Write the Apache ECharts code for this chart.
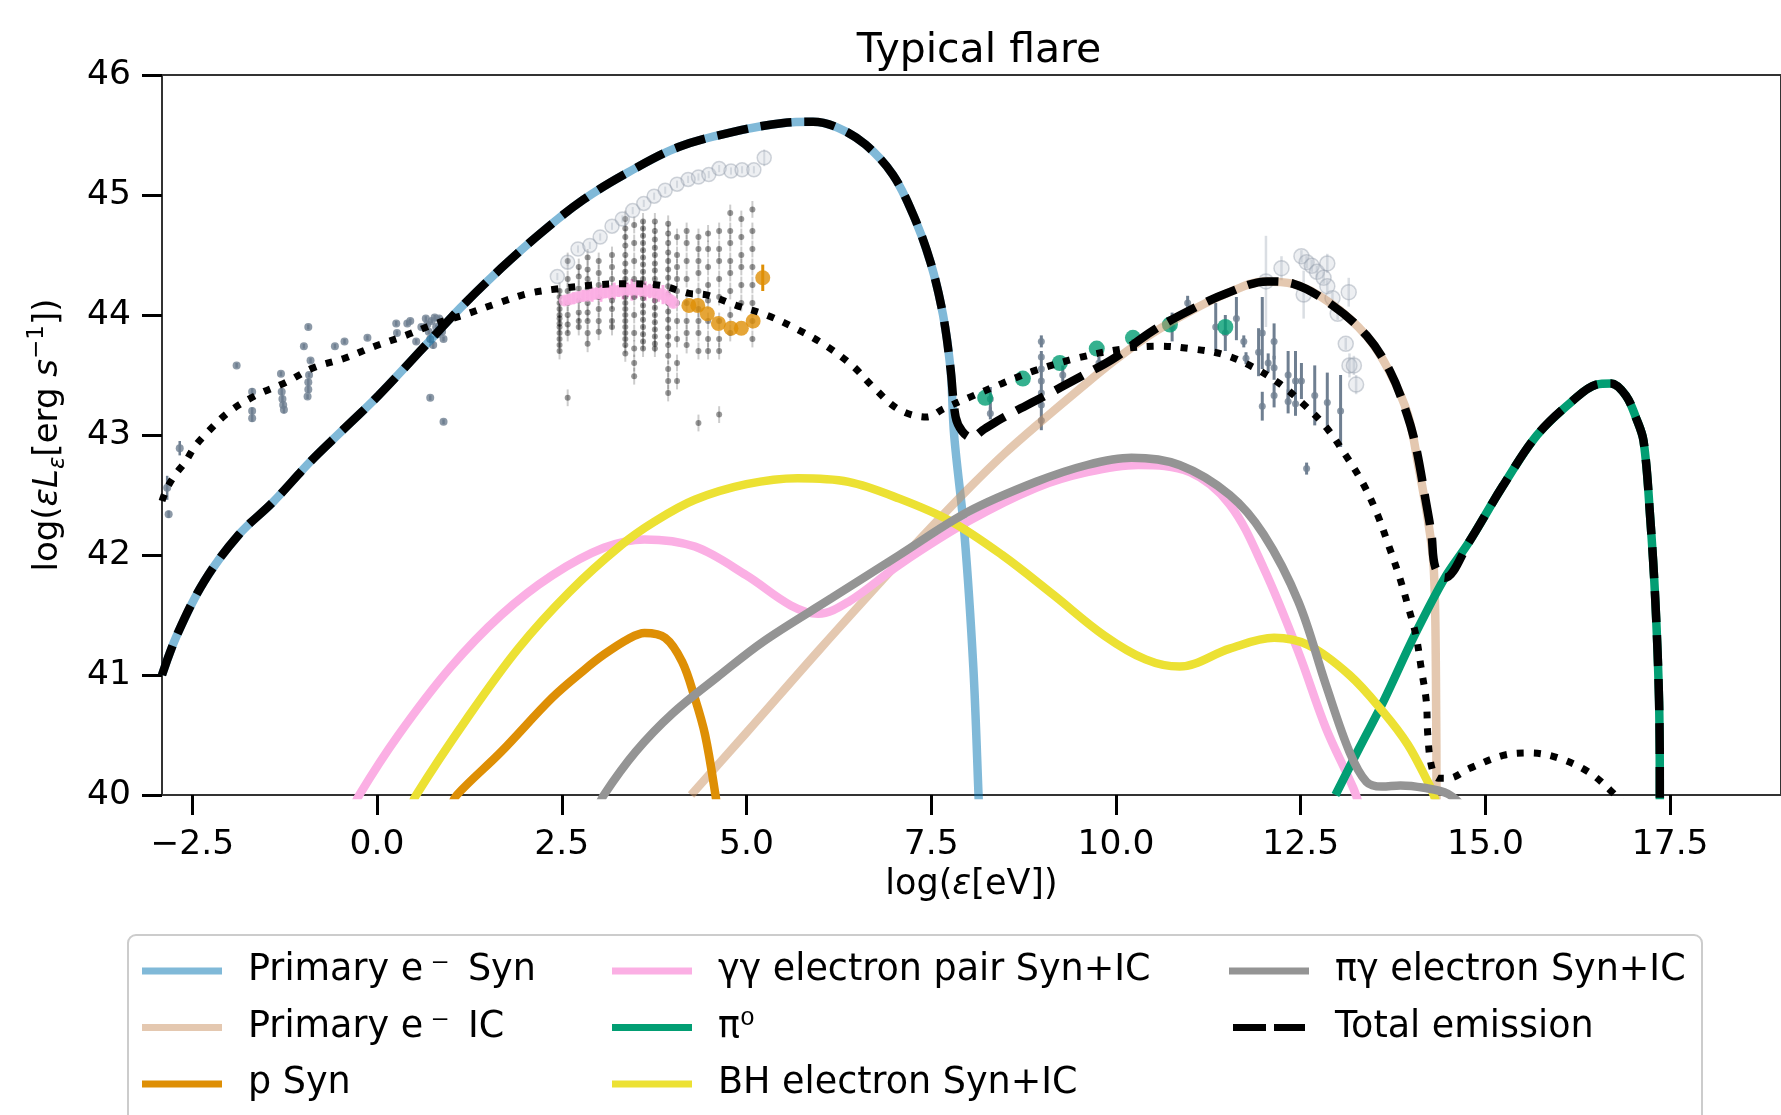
<!DOCTYPE html>
<html>
<head>
<meta charset="utf-8">
<title>Typical flare</title>
<script src="https://cdn.jsdelivr.net/npm/echarts@6/dist/echarts.min.js"></script>
<style>
  html, body { margin: 0; padding: 0; background: #fff; }
  #chart { width: 1781px; height: 1115px; }
</style>
</head>
<body>
<div id="chart"></div>
<script>
// tick positions on the energy axis
const xTicks = [-2.5, 0, 2.5, 5, 7.5, 10, 12.5, 15, 17.5];

// model curves [log eps, log eps L_eps]
const primarySyn = [[-2.91,41.0],[-2.71,41.33],[-2.34,41.78],[-1.87,42.17],[-1.41,42.44],[-0.9,42.78],[-0.5,43.02],[0.02,43.33],[0.57,43.69],[1.13,44.06],[1.68,44.39],[2.23,44.69],[2.79,44.96],[3.4,45.19],[4.08,45.4],[4.85,45.53],[5.5,45.6],[5.9,45.61],[6.24,45.56],[6.61,45.42],[6.98,45.17],[7.26,44.83],[7.49,44.44],[7.66,44.0],[7.76,43.56],[7.81,43.0],[7.95,42.17],[8.07,41.06],[8.14,40.0],[8.15,39.8]];
const primaryIC = [[4.25,40.0],[5.0,40.52],[6.0,41.22],[7.0,41.9],[7.53,42.25],[8.0,42.55],[8.5,42.85],[9.0,43.12],[9.5,43.38],[10.0,43.63],[10.5,43.85],[11.0,44.03],[11.5,44.18],[12.0,44.28],[12.4,44.26],[12.9,44.1],[13.4,43.82],[13.7,43.53],[13.95,43.17],[14.1,42.72],[14.22,42.3],[14.3,41.9],[14.33,41.0],[14.34,39.5]];
const pSyn = [[1.0,39.9],[1.08,40.0],[1.68,40.36],[2.37,40.81],[2.8,41.04],[3.07,41.17],[3.4,41.3],[3.62,41.35],[3.9,41.31],[4.13,41.11],[4.3,40.81],[4.44,40.5],[4.58,40.0],[4.62,39.8]];
const ggPair = [[-0.35,39.85],[-0.24,40.0],[0.29,40.5],[0.99,41.06],[1.68,41.5],[2.37,41.83],[3.07,42.06],[3.62,42.13],[4.3,42.07],[5.0,41.83],[5.6,41.58],[5.97,41.51],[6.38,41.61],[7.07,41.92],[8.0,42.28],[8.92,42.56],[9.61,42.69],[10.3,42.75],[11.0,42.69],[11.54,42.42],[12.0,41.89],[12.47,41.19],[12.84,40.56],[13.21,40.06],[13.3,39.9]];
const pi0 = [[12.97,40.0],[13.3,40.4],[13.62,40.78],[14.04,41.33],[14.45,41.81],[14.78,42.11],[15.24,42.58],[15.7,43.0],[16.17,43.28],[16.5,43.42],[16.7,43.43],[16.9,43.33],[17.04,43.14],[17.14,42.95],[17.23,42.31],[17.3,41.61],[17.35,40.78],[17.36,40.0],[17.36,39.8]];
const bhPair = [[0.45,39.88],[0.53,40.0],[1.22,40.64],[1.91,41.22],[2.6,41.69],[3.3,42.08],[3.76,42.28],[4.3,42.46],[5.0,42.59],[5.69,42.64],[6.38,42.61],[7.07,42.47],[7.77,42.28],[8.46,42.0],[9.15,41.67],[9.84,41.33],[10.4,41.13],[10.86,41.07],[11.54,41.22],[12.14,41.31],[12.6,41.25],[13.16,41.0],[13.62,40.69],[13.95,40.42],[14.22,40.11],[14.3,40.0],[14.35,39.9]];
const pgPair = [[2.98,39.88],[3.07,40.0],[3.5,40.36],[4.0,40.68],[4.6,40.98],[5.23,41.28],[6.15,41.64],[7.07,42.0],[8.0,42.36],[8.92,42.61],[9.61,42.75],[10.21,42.81],[10.86,42.75],[11.54,42.5],[12.0,42.17],[12.47,41.61],[12.84,40.92],[13.16,40.36],[13.39,40.11],[13.6,40.07],[13.85,40.08],[14.17,40.06],[14.49,40.01],[14.7,39.9]];
const totalEmission = [[-2.91,41.0],[-2.71,41.33],[-2.34,41.78],[-1.87,42.17],[-1.41,42.44],[-0.9,42.78],[-0.5,43.02],[0.02,43.33],[0.57,43.69],[1.13,44.06],[1.68,44.39],[2.23,44.69],[2.79,44.96],[3.4,45.19],[4.08,45.4],[4.85,45.53],[5.5,45.6],[5.9,45.61],[6.24,45.56],[6.61,45.42],[6.98,45.17],[7.26,44.83],[7.49,44.44],[7.66,44.0],[7.76,43.56],[7.83,43.15],[7.92,43.03],[8.04,42.98],[8.22,43.05],[8.49,43.15],[9.02,43.32],[9.5,43.48],[9.95,43.63],[10.5,43.87],[11.0,44.04],[11.49,44.18],[12.05,44.28],[12.4,44.26],[12.93,44.08],[13.39,43.83],[13.71,43.53],[13.94,43.17],[14.06,42.9],[14.19,42.46],[14.27,42.17],[14.32,41.9],[14.45,41.81],[14.78,42.11],[15.24,42.58],[15.7,43.0],[16.17,43.28],[16.5,43.42],[16.7,43.43],[16.9,43.33],[17.04,43.14],[17.14,42.95],[17.23,42.31],[17.3,41.61],[17.35,40.78],[17.36,40.0],[17.36,39.8]];
const dottedModel = [[-2.91,42.45],[-2.84,42.56],[-2.73,42.67],[-2.59,42.78],[-2.47,42.9],[-2.33,43.0],[-2.01,43.19],[-1.64,43.33],[-1.23,43.44],[-0.86,43.56],[-0.44,43.64],[-0.03,43.74],[0.39,43.83],[0.76,43.92],[1.22,44.01],[1.64,44.1],[2.05,44.18],[2.47,44.22],[2.93,44.25],[3.34,44.26],[3.8,44.25],[4.22,44.18],[4.44,44.17],[4.86,44.08],[5.27,44.0],[5.69,43.88],[6.06,43.75],[6.43,43.58],[6.73,43.39],[7.07,43.21],[7.44,43.15],[7.67,43.22],[8.04,43.32],[8.46,43.43],[8.87,43.53],[9.47,43.64],[10.12,43.72],[10.58,43.74],[11.0,43.72],[11.46,43.67],[11.84,43.57],[12.21,43.43],[12.55,43.25],[12.85,43.06],[13.11,42.83],[13.34,42.6],[13.53,42.35],[13.69,42.08],[13.83,41.83],[13.95,41.58],[14.06,41.33],[14.13,41.06],[14.2,40.78],[14.22,40.5],[14.27,40.24],[14.36,40.14],[14.5,40.14],[14.78,40.22],[15.24,40.33],[15.61,40.35],[15.98,40.31],[16.4,40.19],[16.74,40.01],[16.9,39.9]];

// observations [x, y, err]
const radioSlate = [[-2.84,42.56,0.1],[-2.82,42.34,0.03],[-2.67,42.89,0.06],[-1.9,43.58,0.02],[-1.69,43.36,0.03],[-1.69,43.2,0.03],[-1.69,43.14,0.03],[-1.3,43.51,0.02],[-1.29,43.36,0.03],[-1.28,43.3,0.03],[-1.27,43.25,0.02],[-1.26,43.21,0.03],[-0.99,43.74,0.02],[-0.93,43.9,0.02],[-0.9,43.62,0.02],[-0.92,43.5,0.02],[-0.93,43.44,0.03],[-0.93,43.38,0.03],[-0.94,43.32,0.02],[-0.57,43.74,0.02],[-0.44,43.78,0.02],[-0.13,43.81,0.02],[0.26,43.93,0.02],[0.27,43.85,0.02],[0.41,43.93,0.02],[0.45,43.95,0.02],[0.53,43.78,0.02],[0.6,43.9,0.02],[0.66,43.97,0.02],[0.68,43.92,0.02],[0.7,43.86,0.02],[0.72,43.8,0.03],[0.74,43.95,0.02],[0.76,43.75,0.03],[0.78,43.98,0.02],[0.8,43.9,0.02],[0.82,43.84,0.02],[0.84,43.97,0.02],[0.86,43.93,0.02],[0.88,43.86,0.03],[0.9,43.8,0.02],[0.72,43.31,0.02],[0.9,43.11,0.02]];
const gammaSlate = [[8.3,43.3,0.1],[8.3,43.18,0.05],[8.99,43.78,0.05],[8.99,43.65,0.05],[8.99,43.55,0.05],[8.99,43.45,0.05],[8.99,43.35,0.05],[8.99,43.25,0.05],[8.99,43.12,0.08],[9.28,43.5,0.08],[9.77,43.6,0.05],[10.23,43.75,0.05],[10.76,43.9,0.12],[10.97,44.1,0.06],[11.35,43.9,0.2],[11.48,43.85,0.15],[11.63,43.97,0.18],[11.73,43.78,0.05],[11.76,43.64,0.05],[11.93,43.69,0.2],[11.98,43.85,0.3],[11.98,43.24,0.12],[12.06,43.6,0.08],[12.14,43.78,0.15],[12.14,43.56,0.1],[12.14,43.33,0.1],[12.33,43.5,0.2],[12.33,43.28,0.1],[12.43,43.45,0.25],[12.43,43.26,0.1],[12.51,43.45,0.15],[12.58,42.72,0.05],[12.69,43.33,0.25],[12.86,43.27,0.25],[13.04,43.2,0.3]];
const opticalCircles = [[2.44,44.32,0.03],[2.58,44.44,0.03],[2.72,44.55,0.03],[2.88,44.58,0.03],[3.02,44.65,0.03],[3.18,44.74,0.03],[3.32,44.8,0.03],[3.46,44.87,0.03],[3.61,44.93,0.03],[3.75,44.99,0.03],[3.9,45.04,0.03],[4.06,45.09,0.03],[4.21,45.13,0.03],[4.35,45.15,0.03],[4.49,45.17,0.03],[4.63,45.22,0.03],[4.79,45.2,0.03],[4.94,45.21,0.03],[5.1,45.21,0.03],[5.24,45.31,0.07]];
const tevCircles = [[12.03,44.28,0.38],[12.24,44.39,0.1],[12.51,44.49,0.05],[12.58,44.44,0.05],[12.65,44.41,0.05],[12.72,44.36,0.05],[12.86,44.43,0.08],[12.81,44.31,0.05],[12.86,44.24,0.05],[12.54,44.17,0.2],[12.93,44.14,0.05],[13.0,44.01,0.05],[13.15,44.19,0.12],[13.11,43.76,0.05],[13.16,43.58,0.1],[13.22,43.58,0.08],[13.25,43.42,0.08]];
const orangeObs = [[4.22,44.08,0],[4.34,44.08,0],[4.47,44.01,0],[4.62,43.93,0],[4.79,43.89,0],[4.93,43.89,0],[5.09,43.95,0],[5.22,44.31,0.11]];
const greenObs = [[8.23,43.31,0],[8.74,43.47,0],[9.24,43.6,0],[9.74,43.72,0],[10.23,43.81,0],[10.73,43.92,0],[11.48,43.9,0]];
const pinkObs = [[2.54,44.12,0.04],[2.6,44.13,0.04],[2.66,44.14,0.05],[2.72,44.15,0.04],[2.79,44.16,0.05],[2.85,44.16,0.04],[2.91,44.17,0.06],[2.97,44.18,0.05],[3.03,44.18,0.07],[3.09,44.19,0.05],[3.15,44.19,0.06],[3.21,44.2,0.07],[3.27,44.2,0.05],[3.33,44.21,0.08],[3.39,44.21,0.06],[3.45,44.21,0.09],[3.51,44.21,0.07],[3.57,44.21,0.06],[3.63,44.2,0.08],[3.69,44.2,0.06],[3.75,44.19,0.09],[3.81,44.18,0.07],[3.87,44.17,0.08],[3.93,44.14,0.06],[3.98,44.12,0.05],[4.01,44.1,0.04]];
// dense optical columns: [x, [y values]]
const opticalColumns = [
  [2.47, [44.2,44.15,44.1,44.05,44.0,43.97,43.93,43.9,43.85,43.8,43.75,43.7]],
  [2.58, [44.45,44.3,44.2,44.1,44.0,43.92,43.85,43.31]],
  [2.73, [44.4,44.32,44.22,44.12,44.02,43.95,43.9]],
  [2.85, [44.48,44.38,44.3,44.22,44.1,44.02,43.95,43.85,43.76]],
  [3.0, [44.45,44.35,44.25,44.15,44.05,43.95,43.86]],
  [3.18, [44.5,44.4,44.3,44.2,44.12,44.05,43.95,43.9]],
  [3.36, [44.8,44.72,44.65,44.58,44.5,44.43,44.36,44.3,44.25,44.2,44.15,44.1,44.05,44.0,43.95,43.9,43.85,43.8,43.75,43.68]],
  [3.48, [44.75,44.6,44.45,44.3,44.15,44.0,43.85,43.72,43.6,43.49]],
  [3.6, [44.78,44.72,44.66,44.6,44.54,44.48,44.42,44.36,44.3,44.25,44.2,44.14,44.08,44.02,43.96,43.9,43.84,43.78,43.72]],
  [3.76, [44.78,44.7,44.63,44.56,44.5,44.43,44.37,44.3,44.24,44.18,44.12,44.06,44.0,43.94,43.88,43.82,43.76,43.72]],
  [3.94, [44.76,44.68,44.6,44.52,44.45,44.38,44.31,44.24,44.17,44.1,44.03,43.96,43.89,43.82,43.75,43.66,43.55,43.45,43.35]],
  [4.06, [44.65,44.5,44.4,44.3,44.2,44.1,43.95,43.8,43.6,43.45]],
  [4.19, [44.7,44.6,44.45,44.3,44.1,43.95,43.85,43.75]],
  [4.35, [44.65,44.55,44.45,44.35,44.2,44.05,43.95,43.85,43.7,43.1]],
  [4.48, [44.68,44.55,44.4,44.25,44.12,43.95,43.8,43.7]],
  [4.63, [44.7,44.55,44.45,44.3,44.15,43.95,43.8,43.7,43.17]],
  [4.78, [44.85,44.7,44.6,44.45,44.35,44.2,44.0,43.85]],
  [4.93, [44.8,44.65,44.5,44.4,44.25,44.1]],
  [5.08, [44.88,44.7,44.55,44.4,44.25,44.1,43.95,43.8]]
];

const FONT = "DejaVu Sans";
const C = {
  syn: "rgba(1,115,178,0.5)",
  ic: "rgba(202,145,97,0.5)",
  pSyn: "#de8f05",
  gg: "#fbafe4",
  pi0: "#029e73",
  bh: "#ece133",
  pg: "#949494",
  slate: "#6f7f91"
};
const LW = 8.5;

const opticalPoints = [];
opticalColumns.forEach(([x, ys]) => ys.forEach((y) => opticalPoints.push([x, y, 0.07])));

function curve(name, data, color, extra) {
  return Object.assign({
    name: name,
    type: "line",
    data: data,
    showSymbol: false,
    symbol: "none",
    smooth: 0.35,
    clip: true,
    itemStyle: { color: color },
    lineStyle: { color: color, width: LW, cap: "butt" },
    emphasis: { disabled: true },
    animation: false
  }, extra || {});
}

function errorBars(data, color, width) {
  return {
    type: "custom",
    data: data,
    clip: true,
    silent: true,
    animation: false,
    encode: { x: 0, y: 1 },
    renderItem: (params, api) => {
      const x = api.value(0), y = api.value(1), e = api.value(2);
      const a = api.coord([x, y - e]);
      const b = api.coord([x, y + e]);
      return {
        type: "line",
        shape: { x1: a[0], y1: a[1], x2: b[0], y2: b[1] },
        style: { stroke: color, lineWidth: width }
      };
    }
  };
}

function points(data, size, style) {
  return {
    type: "scatter",
    data: data,
    symbolSize: size,
    itemStyle: style,
    silent: true,
    animation: false,
    clip: true
  };
}

const legendBase = {
  orient: "vertical",
  top: 946,
  itemWidth: 80,
  itemHeight: 7,
  itemGap: 16.5,
  icon: "rect",
  selectedMode: false,
  textStyle: { fontFamily: FONT, fontSize: 36.5, lineHeight: 40, color: "#000", padding: [0, 0, 0, 21] }
};

const chart = echarts.init(document.getElementById("chart"));
chart.setOption({
  backgroundColor: "#fff",
  animation: false,
  graphic: [
    {
      type: "text",
      x: 979,
      y: 51,
      style: { text: "Typical flare", font: "41px " + FONT, fill: "#000", align: "center", verticalAlign: "middle" }
    },
    {
      type: "rect",
      z: 1,
      shape: { x: 128, y: 935, width: 1574, height: 200, r: 8 },
      style: { fill: "#fff", stroke: "#cccccc", lineWidth: 2 }
    }
  ],
  grid: {
    left: 162,
    right: -15,
    top: 75,
    bottom: 320,
    show: true,
    borderColor: "#333",
    borderWidth: 2,
    backgroundColor: "transparent"
  },
  xAxis: {
    type: "value",
    min: -2.91,
    max: 19,
    name: "{t|log(}{i|ε}{t|[eV])}",
    nameLocation: "middle",
    nameGap: 66,
    nameTextStyle: {
      fontFamily: FONT,
      color: "#000",
      rich: {
        t: { fontFamily: FONT, fontSize: 35, color: "#000" },
        i: { fontFamily: FONT, fontSize: 35, fontStyle: "italic", color: "#000" }
      }
    },
    axisLine: { show: true, onZero: false, lineStyle: { color: "#333", width: 2 } },
    axisTick: { show: true, length: 20, customValues: xTicks, lineStyle: { color: "#000", width: 3 } },
    axisLabel: {
      customValues: xTicks,
      fontFamily: FONT,
      fontSize: 34.5,
      color: "#000",
      margin: 33,
      formatter: (v) => v.toFixed(1).replace("-", "\u2212")
    },
    splitLine: { show: false }
  },
  yAxis: {
    type: "value",
    min: 40,
    max: 46,
    interval: 1,
    name: "{t|log(}{i|εL}{s|ε}{t|[erg }{i|s}{p|\u22121}{t|])}",
    nameLocation: "middle",
    nameGap: 92,
    nameRotate: 90,
    nameTextStyle: {
      fontFamily: FONT,
      color: "#000",
      rich: {
        t: { fontFamily: FONT, fontSize: 34, color: "#000", lineHeight: 44 },
        i: { fontFamily: FONT, fontSize: 34, fontStyle: "italic", color: "#000", lineHeight: 44 },
        s: { fontFamily: FONT, fontSize: 23, fontStyle: "italic", color: "#000", verticalAlign: "bottom", lineHeight: 44 },
        p: { fontFamily: FONT, fontSize: 23, color: "#000", verticalAlign: "top", lineHeight: 44 }
      }
    },
    axisLine: { show: true, onZero: false, lineStyle: { color: "#333", width: 2 } },
    axisTick: { show: true, length: 20, lineStyle: { color: "#000", width: 3 } },
    axisLabel: { fontFamily: FONT, fontSize: 34.5, color: "#000", margin: 31 },
    splitLine: { show: false }
  },
  legend: [
    Object.assign({}, legendBase, { left: 137, data: ["Primary e\u2009\u207B\u2002Syn", "Primary e\u2009\u207B\u2002IC", "p Syn"] }),
    Object.assign({}, legendBase, { left: 607, data: ["γγ electron pair Syn+IC", "π\u2070", "BH electron Syn+IC"] }),
    Object.assign({}, legendBase, {
      left: 1224,
      data: ["πγ electron Syn+IC", { name: "Total emission", icon: "path://M0,0H33V7H0Z M41,0H72V7H41Z" }]
    })
  ],
  series: [
    curve("Primary e\u2009\u207B\u2002Syn", primarySyn, C.syn),
    curve("Primary e\u2009\u207B\u2002IC", primaryIC, C.ic),
    curve("p Syn", pSyn, C.pSyn),
    curve("γγ electron pair Syn+IC", ggPair, C.gg),
    curve("π\u2070", pi0, C.pi0),
    curve("BH electron Syn+IC", bhPair, C.bh),
    curve("πγ electron Syn+IC", pgPair, C.pg),
    curve("Total emission", totalEmission, "#000", {
      lineStyle: { color: "#000", width: LW, type: [31, 13], cap: "butt" }
    }),
    curve("dotted", dottedModel, "#000", {
      lineStyle: { color: "#000", width: 7, type: [7, 10], cap: "butt" }
    }),
    errorBars(opticalPoints, "rgba(0,0,0,0.2)", 2),
    points(opticalPoints, 6, { color: "rgba(0,0,0,0.5)" }),
    errorBars(opticalCircles, "rgba(150,160,175,0.35)", 2),
    points(opticalCircles, 14, { color: "rgba(190,198,208,0.35)", borderColor: "rgba(140,150,165,0.5)", borderWidth: 1.5 }),
    errorBars(tevCircles, "rgba(150,160,175,0.35)", 2.5),
    points(tevCircles, 15, { color: "rgba(190,198,208,0.35)", borderColor: "rgba(140,150,165,0.5)", borderWidth: 1.5 }),
    errorBars(radioSlate, C.slate, 2.5),
    points(radioSlate, 8, { color: C.slate }),
    errorBars(gammaSlate, C.slate, 3),
    points(gammaSlate, 7, { color: C.slate }),
    errorBars(pinkObs, C.gg, 3),
    points(pinkObs, 12, { color: C.gg }),
    errorBars(orangeObs, C.pSyn, 3),
    points(orangeObs, 15, { color: C.pSyn }),
    errorBars(greenObs, C.pi0, 3),
    points(greenObs, 16, { color: C.pi0 })
  ]
});
</script>
</body>
</html>
